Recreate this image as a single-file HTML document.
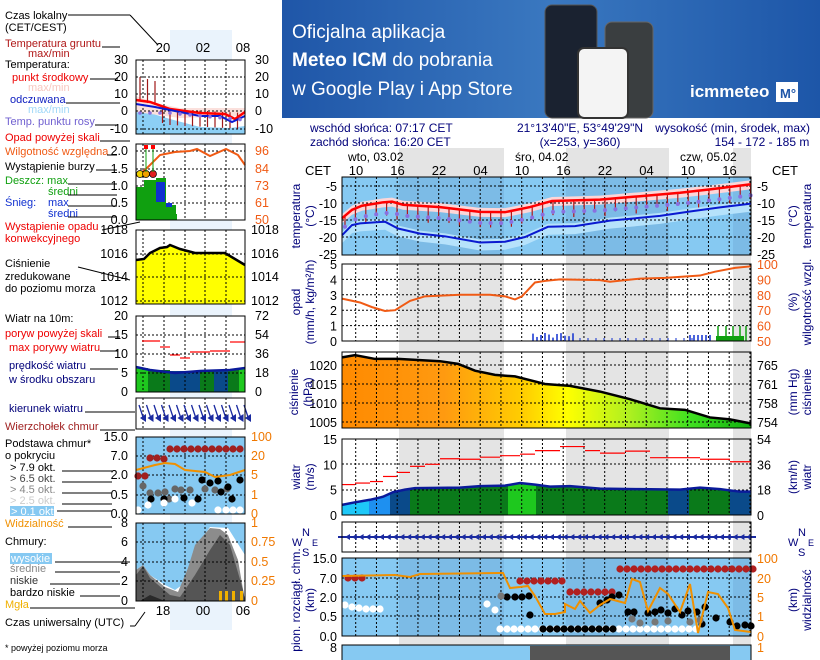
<!DOCTYPE html>
<html><head><meta charset="utf-8"><style>
html,body{margin:0;padding:0;background:#fff;width:820px;height:660px;overflow:hidden}
svg{display:block;font-family:"Liberation Sans",sans-serif}
</style></head><body>
<svg id="s" width="820" height="660" viewBox="0 0 820 660" xmlns="http://www.w3.org/2000/svg">
<defs>
<linearGradient id="bn" x1="0" y1="0" x2="1" y2="0"><stop offset="0" stop-color="#1f56a8"/><stop offset="0.5" stop-color="#3a78c0"/><stop offset="1" stop-color="#1d56a8"/></linearGradient>
<linearGradient id="pr" x1="0" y1="0" x2="1" y2="0"><stop offset="0" stop-color="#ff8a00"/><stop offset="0.25" stop-color="#ff9a10"/><stop offset="0.45" stop-color="#ffd000"/><stop offset="0.55" stop-color="#ffff00"/><stop offset="0.7" stop-color="#b0f020"/><stop offset="0.85" stop-color="#40e020"/><stop offset="1" stop-color="#10b010"/></linearGradient>
</defs>
<rect x="282" y="0" width="538" height="118" fill="url(#bn)"/>
<text x="292" y="38" fill="#fff" font-size="19">Oficjalna aplikacja</text>
<text x="292" y="66" fill="#fff" font-size="19"><tspan font-weight="bold">Meteo ICM</tspan> do pobrania</text>
<text x="292" y="95" fill="#fff" font-size="19">w Google Play i App Store</text>
<rect x="545" y="5" width="52" height="113" rx="7" fill="#1a2230" stroke="#555"/>
<rect x="605" y="22" width="48" height="96" rx="7" fill="#3a3e40" stroke="#666"/>
<rect x="578" y="48" width="50" height="70" rx="6" fill="#f4f4f4" stroke="#333" stroke-width="2"/>
<text x="690" y="97" fill="#fff" font-size="17" font-weight="bold">icmmeteo</text>
<rect x="776" y="82" width="22" height="20" fill="#fff"/><text x="780" y="98" fill="#1f56a8" font-size="13" font-weight="bold">M°</text>
<g id="g"></g>
</svg>
<script>
var S=document.getElementById('g'),h='';
function t(x,y,s,c,sz,a,extra){h+='<text x="'+x+'" y="'+y+'" fill="'+(c||'#000')+'" font-size="'+(sz||12)+'"'+(a?' text-anchor="'+a+'"':'')+(extra||'')+'>'+s+'</text>';}
function r(x,y,w,hh,c,e){h+='<rect x="'+x+'" y="'+y+'" width="'+w+'" height="'+hh+'" fill="'+c+'" '+(e||'')+'/>';}
function l(x1,y1,x2,y2,c,w,e){h+='<line x1="'+x1+'" y1="'+y1+'" x2="'+x2+'" y2="'+y2+'" stroke="'+(c||'#000')+'" stroke-width="'+(w||1)+'" '+(e||'')+'/>';}
function pl(pts,c,w,fill){h+='<polyline points="'+pts.map(p=>p.join(',')).join(' ')+'" fill="'+(fill||'none')+'" stroke="'+c+'" stroke-width="'+(w||1)+'"/>';}
function pg(pts,c){h+='<polygon points="'+pts.map(p=>p.join(',')).join(' ')+'" fill="'+c+'"/>';}
function ip(pts,x){for(var i=0;i<pts.length-1;i++){if(x>=pts[i][0]&&x<=pts[i+1][0]){var f=(x-pts[i][0])/(pts[i+1][0]-pts[i][0]);return pts[i][1]+f*(pts[i+1][1]-pts[i][1]);}}return pts[pts.length-1][1];}
var X0=342,X1=751,TS=12.5;
var gx=[];for(var k=-1;k<20;k++){var x=355.7+k*20.75;if(x>X0&&x<X1)gx.push(x);}
function grid(y0,y1,ys){gx.forEach(x=>l(x,y0,x,y1,'#000',1,'stroke-dasharray="2,2"'));ys.forEach(y=>l(X0,y,X1,y,'#000',1,'stroke-dasharray="2,2"'));}
function shades(y0,y1){[[399,504],[566,669],[733,751]].forEach(b=>r(b[0],y0,b[1]-b[0],y1-y0,'#e4e4e4'));}
function rot(x,y,s){t(x,y,s,'#00007a',12,'middle',' transform="rotate(-90 '+x+' '+y+')"');}
shades(148,660);
t(310,132,'wschód słońca: 07:17 CET','#00007a',12);t(310,146,'zachód słońca: 16:20 CET','#00007a',12);
t(580,132,'21°13\'40"E, 53°49\'29"N','#00007a',12,'middle');t(580,146,'(x=253,  y=360)','#00007a',12,'middle');
t(810,132,'wysokość (min, środek, max)','#00007a',12,'end');t(762,146,'154 - 172 - 185 m','#00007a',12,'middle');
t(348,161,'wto, 03.02','#000',12);t(515,161,'śro, 04.02','#000',12);t(680,161,'czw, 05.02','#000',12);
t(305,175,'CET','#000',13);t(772,175,'CET','#000',13);
['10','16','22','04','10','16','22','04','10','16'].forEach((s,i)=>t(356+i*41.5,175,s,'#000',13,'middle'));
// temperature
var TY=T=>186+(-5-T)*3.4;
r(X0,177,X1-X0,78,'#86c9f2');
[[399,504],[566,669],[733,751]].forEach(b=>r(b[0],177,b[1]-b[0],78,'#7cbbe6'));
var red=[[342,-14.5],[352,-12],[362,-10.8],[383,-9.8],[392,-9.6],[403,-10.5],[440,-11.2],[480,-12.6],[505,-12.7],[530,-11.2],[552,-9.4],[600,-9],[640,-8],[680,-7],[710,-6],[751,-4.5]];
var blue=[[342,-19.5],[352,-16.5],[360,-16],[385,-15.5],[398,-17.5],[420,-19],[445,-19.8],[480,-21.6],[505,-21.4],[525,-20],[548,-17],[575,-16.8],[610,-15.2],[660,-13.8],[690,-12.5],[720,-11.3],[751,-10.2]];
var rp=red.map(p=>[p[0],TY(p[1])]),bp=blue.map(p=>[p[0],TY(p[1])]);
pg(bp.map(p=>[p[0],p[1]-3]).concat(bp.slice().reverse().map(p=>[p[0],p[1]+8])),'#b6e2fb');
pg(rp.map(p=>[p[0],p[1]-4]).concat(rp.slice().reverse().map(p=>[p[0],p[1]+5])),'#fcd6d8');
grid(177,255,[186,203,220,237]);
for(var x=345;x<X1;x+=10.4){var y=ip(rp,x);l(x,y,x,y+14+3*Math.sin(x),'#b01818',1.2);}
for(var x=345;x<X1;x+=10.4){var y=ip(rp,x)+11;h+='<circle cx="'+x+'" cy="'+y+'" r="2" fill="#8a70e0"/>';}
pl(bp,'#0a1ad0',2);pl(rp,'#ff0000',2.5);
r(X0,177,X1-X0,78,'none','stroke="#000"');
[-5,-10,-15,-20,-25].forEach(v=>{t(337,TY(v)+5,v,'#000',TS,'end');t(757,TY(v)+5,v,'#000',TS);});
rot(300,216,'temperatura');rot(314,216,'(°C)');rot(797,216,'(°C)');rot(811,216,'temperatura');
// precip
var PY=v=>341-v*15.4;
r(X0,264,X1-X0,77,'#fff');shades(264,341);
grid(264,341,[PY(1),PY(2),PY(3),PY(4)]);
pl([[342,PY(2.75)],[360,PY(2.5)],[372,PY(2.2)],[385,PY(1.95)],[395,PY(2)],[410,PY(2.6)],[425,PY(2.9)],[460,PY(3.0)],[490,PY(3.0)],[505,PY(2.9)],[515,PY(2.7)],[522,PY(2.9)],[535,PY(3.8)],[545,PY(3.9)],[560,PY(4.0)],[600,PY(3.95)],[610,PY(3.85)],[640,PY(4.05)],[665,PY(4.1)],[700,PY(4.25)],[715,PY(4.5)],[735,PY(4.75)],[751,PY(4.85)]],'#f05a14',2);
for(var x=533;x<575;x+=4){l(x,341,x,341-3-5*Math.abs(Math.sin(x)),'#1030d0',1.5);}
for(var x=580;x<700;x+=8){l(x,341,x,338,'#1030d0',1);}
for(var x=690;x<712;x+=4){l(x,341,x,335,'#1030d0',1.5);}
[718,726,733,740,746].forEach(x=>l(x,341,x,326,'#10a010',1.5));r(716,336,28,5,'#10a010');
r(X0,264,X1-X0,77,'none','stroke="#000"');
[0,1,2,3,4,5].forEach(v=>t(337,PY(v)+5,v,'#000',TS,'end'));
[50,60,70,80,90,100].forEach((v,i)=>t(757,PY(i)+5,v,'#f05a14',TS));
rot(300,302,'opad');rot(314,302,'(mm/h, kg/m²/h)');rot(797,302,'(%)');rot(811,302,'wilgotność wzgl.');
// pressure
var QY=v=>365+(1020-v)*3.8;
var pp=[[342,1022],[355,1022.6],[375,1021.6],[398,1021.6],[440,1021],[458,1020.3],[475,1018.5],[495,1017.4],[515,1017],[545,1015],[570,1014.5],[600,1013],[630,1011],[660,1008.6],[685,1008.2],[710,1006.2],[730,1005.7],[751,1004.6]].map(p=>[p[0],QY(p[1])]);
r(X0,352,X1-X0,76,'#fff');shades(352,428);
pg([[342,428]].concat(pp,[[751,428]]),'url(#pr)');
grid(352,428,[365,384,403,422]);
pl(pp,'#000',2.5);
r(X0,352,X1-X0,76,'none','stroke="#000"');
[1020,1015,1010,1005].forEach(v=>t(337,QY(v)+5,v,'#000',TS,'end'));
[[765,1020],[761,1015],[758,1010],[754,1005]].forEach(v=>t(757,QY(v[1])+5,v[0],'#000',TS));
rot(298,392,'ciśnienie');rot(312,392,'(hPa)');rot(797,392,'(mm Hg)');rot(811,392,'ciśnienie');
// wind
var WY=v=>515-v*5.07;
r(X0,439,X1-X0,76,'#fff');shades(439,515);
var wp=[[342,2],[355,2.5],[370,3],[383,3.6],[393,4.5],[405,5],[415,5.3],[460,5.4],[480,5.7],[505,5.8],[520,6.3],[535,6],[550,5.6],[570,5.7],[600,5.2],[640,5.1],[680,5.0],[700,5.4],[720,5.1],[740,4.6],[751,4.6]].map(p=>[p[0],WY(p[1])]);
var segs=[[342,369,'#1ec8f8'],[369,390,'#1e90f0'],[390,410,'#0a4a8a'],[410,508,'#0a7a1a'],[508,536,'#1ec81e'],[536,668,'#0a7a1a'],[668,689,'#0a4a8a'],[689,730,'#0a7a1a'],[730,751,'#0a4a8a']];
segs.forEach(s=>{var pts=[[s[0],515]];for(var x=s[0];x<=s[1];x+=2)pts.push([x,ip(wp,x)]);pts.push([s[1],ip(wp,s[1])],[s[1],515]);pg(pts,s[2]);});
grid(439,515,[464,490]);
pl(wp,'#0a1a9a',2.5);
var gust=[[342,6],[355,6.3],[370,6.6],[383,7.6],[397,8.4],[410,9.6],[425,10],[440,11.1],[460,11],[480,11.4],[500,11.7],[520,12],[535,12.7],[560,13.5],[585,12.7],[600,12.2],[625,12.6],[650,11.3],[700,11],[730,10.5],[751,10.8]];
for(var i=0;i<gust.length-1;i++){l(gust[i][0],WY(gust[i][1]),gust[i+1][0],WY(gust[i][1]),'#ff0000',1.2);}
r(X0,439,X1-X0,76,'none','stroke="#000"');
[0,5,10,15].forEach(v=>t(337,WY(v)+5,v,'#000',TS,'end'));[0,18,36,54].forEach((v,i)=>t(757,WY(i*5)+5,v,'#000',TS));
rot(300,477,'wiatr');rot(314,477,'(m/s)');rot(797,477,'(km/h)');rot(811,477,'wiatr');
// direction
r(X0,522,X1-X0,30,'#fff');shades(522,552);grid(522,552,[]);
l(338,537,756,537,'#1a2aa0',2);for(var x=345;x<750;x+=6.8){h+='<polygon points="'+x+',537 '+(x+5)+',534 '+(x+5)+',540" fill="#1a2aa0"/>';}
r(X0,522,X1-X0,30,'none','stroke="#000"');
t(292,546,'W','#00007a',11);t(302,536,'N','#00007a',11);t(302,556,'S','#00007a',11);t(312,546,'E','#00007a',9);
t(788,546,'W','#00007a',11);t(798,536,'N','#00007a',11);t(798,556,'S','#00007a',11);t(808,546,'E','#00007a',9);
// clouds
r(X0,558,X1-X0,78,'#86c9f2');[[399,504],[566,669],[733,751]].forEach(b=>r(b[0],558,b[1]-b[0],78,'#7cbbe6'));
grid(558,636,[578,597,616]);
function dots(arr,c){arr.forEach(p=>h+='<circle cx="'+p[0]+'" cy="'+p[1]+'" r="3.6" fill="'+c+'"/>');}
var dr=[[348,578],[355,578],[362,578]];for(var x=520;x<568;x+=7)dr.push([x,581]);for(var x=570;x<615;x+=7)dr.push([x,592]);for(var x=620;x<755;x+=7)dr.push([x,569]);
dots(dr,'#b02020');
var dw=[[345,605],[352,607],[359,608],[366,609],[373,609],[380,609],[487,604],[495,610]];for(var x=500;x<700;x+=7)dw.push([x,629]);dots(dw,'#fff');
var db=[];for(var x=543;x<620;x+=7)db.push([x,629]);[[507,597],[515,597],[522,597],[529,596],[530,615],[600,603],[607,600],[612,597],[619,595],[628,612],[634,612],[648,613],[655,612],[661,610],[668,613],[675,609],[682,615],[688,611],[697,612],[702,624],[705,607],[716,618],[730,622],[737,626],[745,625],[751,626]].forEach(p=>db.push(p));dots(db,'#000');
dots([[501,596],[632,619],[640,623],[655,622],[668,621],[690,622],[700,620]],'#777');
pl([[342,576],[395,575],[410,577],[420,574],[500,573],[503,573],[510,588],[520,587],[528,586],[535,596],[545,614],[555,614],[565,612],[565,604],[575,609],[580,601],[590,613],[600,605],[610,599],[625,603],[632,579],[640,582],[648,611],[660,588],[668,594],[680,612],[690,584],[698,633],[708,592],[718,594],[728,608],[735,630],[751,632]],'#f09000',2);
r(X0,558,X1-X0,78,'none','stroke="#000"');
[['15.0',558],['7.0',578],['2.0',597],['0.5',616],['0.0',636]].forEach(v=>t(337,v[1]+5,v[0],'#000',TS,'end'));
[['100',558],['20',578],['5',597],['1',616],['0',636]].forEach(v=>t(757,v[1]+5,v[0],'#f07800',TS));
rot(300,600,'pion. rozciągł. chm.');rot(314,600,'(km)');rot(797,600,'(km)');rot(811,600,'widzialność');
r(X0,645,X1-X0,20,'#86c9f2','stroke="#000"');r(530,646,200,14,'#555');t(337,652,'8','#000',TS,'end');t(757,652,'1','#f07800',TS);

// LEFT
var L0=136,L1=245,LS=12.5;
r(170,30,62,600,'#eaf3fc');
function lgrid(y0,y1,ys){[143,164,185,205,226].forEach(x=>l(x,y0,x,y1,'#000',1,'stroke-dasharray="2,2"'));ys.forEach(y=>l(L0,y,L1,y,'#000',1,'stroke-dasharray="2,2"'));}
t(163,52,'20','#000',13,'middle');t(203,52,'02','#000',13,'middle');t(243,52,'08','#000',13,'middle');
r(L0,60,109,74,'#fff');
pg([[136,112],[150,113],[170,119],[200,127],[230,128],[245,126],[245,134],[136,134]],'#8ccff5');
pg([[136,96],[160,104],[180,108],[200,108],[245,108],[245,116],[180,118],[136,112]],'#fbe0dc');
lgrid(60,134,[77,94,111,129]);
for(var x=140;x<245;x+=7.5)l(x,ip([[136,100],[170,109],[245,113]],x),x,ip([[136,100],[170,109],[245,113]],x)+16+(x<160?-40:0),'#a01818',1.2);
pl([[136,100],[150,102],[170,109],[200,113],[225,114],[235,119],[245,112]],'#ff0000',2.5);
pl([[136,104],[155,107],[170,110],[200,116],[220,116],[232,122],[245,116]],'#0a1ad0',2);
for(var x=140;x<245;x+=10)h+='<circle cx="'+x+'" cy="'+ip([[136,113],[170,113],[245,120]],x)+'" r="1.8" fill="#8a70e0"/>';
r(L0,60,109,74,'none','stroke="#000"');
[[30,64],[20,81],[10,98],[0,115],[-10,133]].forEach(v=>{t(128,v[1],v[0],'#000',LS,'end');t(255,v[1],v[0],'#000',LS);});
r(L0,144,109,76,'#fff');lgrid(144,220,[151,169,186,203]);
r(136,187,20,33,'#10a010');r(144,180,22,40,'#10a010');r(156,178,10,42,'#10a010');r(166,205,10,15,'#10a010');r(156,182,9,20,'#1030d0');r(166,203,6,4,'#1030d0');r(166,214,11,6,'#10a010');
pl([[136,176],[145,170],[160,155],[175,152],[190,151],[197,149],[210,156],[226,149],[238,155],[245,165]],'#f05a14',2);
[[140,174,'#f0d000'],[146,174,'#f0a000'],[153,174,'#e02020']].forEach(c=>h+='<circle cx="'+c[0]+'" cy="'+c[1]+'" r="3.5" fill="'+c[2]+'" stroke="#000" stroke-width=".7"/>');
l(146,147,146,172,'#10a010');l(153,147,153,172,'#10a010');r(144,145,4,4,'#f00');r(151,145,4,4,'#f00');
r(L0,144,109,76,'none','stroke="#000"');
[['2.0',155],['1.5',173],['1.0',190],['0.5',207],['0.0',224]].forEach(v=>t(128,v[1],v[0],'#000',LS,'end'));
[['96',155],['84',173],['73',190],['61',207],['50',224]].forEach(v=>t(255,v[1],v[0],'#f05a14',LS));
r(L0,230,109,74,'#fff');
var lp=[[136,260],[144,259],[150,253],[160,248],[167,247],[170,245],[180,249],[195,253],[225,253],[245,265]];
pg([[136,304]].concat(lp,[[245,304]]),'#ffff00');lgrid(230,304,[254,277,301]);pl(lp,'#000',2.5);
r(L0,230,109,74,'none','stroke="#000"');
[['1018',234],['1016',258],['1014',281],['1012',305]].forEach(v=>{t(128,v[1],v[0],'#000',LS,'end');t(251,v[1],v[0],'#000',LS);});
r(L0,316,109,76,'#fff');
r(136,368,12,24,'#1ec81e');r(148,370,22,22,'#0a7a1a');r(170,371,30,21,'#0a4a8a');r(200,371,14,21,'#0a7a1a');r(214,370,14,22,'#0a4a8a');r(228,369,11,23,'#0a7a1a');r(239,369,6,23,'#1ec81e');
lgrid(316,392,[335,354,373]);
pl([[136,367],[150,370],[175,373],[200,371],[230,370],[245,368]],'#0a1a9a',2.5);
[[142,160,341],[160,170,347],[170,180,355],[180,190,358],[190,210,352],[210,230,351],[230,245,342]].forEach(s=>l(s[0],s[2],s[1],s[2],'#f00',1.2));
r(L0,316,109,76,'none','stroke="#000"');
[['20',320],['15',339],['10',358],['5',377],['0',396]].forEach(v=>t(128,v[1],v[0],'#000',LS,'end'));
[['72',320],['54',339],['36',358],['18',377],['0',396]].forEach(v=>t(255,v[1],v[0],'#000',LS));
r(L0,398,109,31,'#fff');lgrid(398,429,[]);
for(var x=139;x<248;x+=7.5){l(x,405,x+4,417,'#1a2aa0',1.3);h+='<polygon points="'+(x+1)+',418 '+(x+7)+',414 '+(x+7)+',422" fill="#1a2aa0"/>';}
r(L0,398,109,31,'none','stroke="#000"');
r(L0,437,109,77,'#86c9f2');lgrid(437,514,[456,475,495]);
dots([[138,476],[145,476],[150,458],[157,458],[164,459],[170,449],[177,449],[184,449],[191,449],[198,449],[205,449],[212,449],[219,449],[226,449],[233,449],[240,449]],'#a02020');
dots([[143,486],[150,493],[158,493],[165,492],[169,499],[175,489],[181,490],[190,490],[205,489],[215,490],[227,489]],'#666');
dots([[151,499],[164,499],[184,498],[198,499],[202,480],[210,483],[218,481],[221,492],[228,487],[232,499],[240,480]],'#000');
dots([[164,503],[175,499],[192,503],[218,510],[226,510],[233,510],[240,510],[148,505],[138,510]],'#fff');
pl([[136,470],[155,465],[165,463],[175,464],[185,470],[205,472],[215,477],[230,475],[245,470]],'#f09000',2);
r(L0,437,109,77,'none','stroke="#000"');
[['15.0',441],['7.0',460],['2.0',479],['0.5',499],['0.0',518]].forEach(v=>t(128,v[1],v[0],'#000',LS,'end'));
[['100',441],['20',460],['5',479],['1',499],['0',518]].forEach(v=>t(251,v[1],v[0],'#f07800',LS));
r(L0,523,109,78,'#86c9f2');
pg([[136,601],[136,570],[143,565],[150,575],[165,585],[175,590],[185,583],[193,552],[210,527],[228,528],[245,555],[245,601]],'#fff');
pg([[136,601],[136,570],[143,565],[150,575],[165,587],[178,592],[188,568],[195,545],[210,528],[220,529],[228,535],[238,560],[245,601]],'#8c8c8c');
pg([[136,601],[136,575],[143,566],[150,578],[170,595],[180,597],[195,575],[210,550],[220,535],[230,545],[243,590],[245,601]],'#555');
pg([[140,601],[150,595],[165,601]],'#2a2a2a');
lgrid(523,601,[542,562,581]);
[219,225,232,240].forEach(x=>r(x,591,3,10,'#f0b000'));
r(L0,523,109,78,'none','stroke="#000"');
[['8',527],['6',546],['4',566],['2',585],['0',605]].forEach(v=>t(128,v[1],v[0],'#000',LS,'end'));
[['1',527],['0.75',546],['0.5',566],['0.25',585],['0',605]].forEach(v=>t(251,v[1],v[0],'#f07800',LS));
t(163,615,'18','#000',13,'middle');t(203,615,'00','#000',13,'middle');t(243,615,'06','#000',13,'middle');

var lab=[['Czas lokalny',5,19,'#000'],['(CET/CEST)',5,31,'#000'],['Temperatura gruntu',5,47,'#b01818'],['max/min',28,57,'#b01818'],['Temperatura:',5,68,'#000'],['punkt środkowy',12,81,'#e00'],['max/min',28,91,'#f8c8c0'],['odczuwana',10,103,'#1020c0'],['max/min',28,113,'#a0d8f8'],['Temp. punktu rosy',5,125,'#7060d0'],
['Opad powyżej skali',5,141,'#e00'],['Wilgotność względna',5,155,'#f05a14'],['Wystąpienie burzy',5,170,'#000'],['Deszcz: max',5,184,'#10a010'],['średni',48,195,'#10a010'],['Śnieg:',5,206,'#1030d0'],['max',48,206,'#1030d0'],['średni',48,217,'#1030d0'],['Wystąpienie opadu',5,230,'#e00'],['konwekcyjnego',5,242,'#e00'],
['Ciśnienie',5,267,'#000'],['zredukowane',5,280,'#000'],['do poziomu morza',5,292,'#000'],['Wiatr na 10m:',5,322,'#000'],['poryw powyżej skali',5,337,'#e00'],['max porywy wiatru',9,351,'#e00'],['prędkość wiatru',9,369,'#00007a'],['w środku obszaru',9,383,'#00007a'],['kierunek wiatru',9,412,'#00007a'],
['Wierzchołek chmur',5,430,'#a02020'],['Podstawa chmur*',5,447,'#000'],['o pokryciu',5,459,'#000'],['> 7.9 okt.',10,471,'#000'],['> 6.5 okt.',10,482,'#444'],['> 4.5 okt.',10,493,'#888'],['> 2.5 okt.',10,504,'#ccc'],['Widzialność',5,527,'#f09000'],['Chmury:',5,545,'#000'],['średnie',10,572,'#888'],['niskie',10,584,'#333'],['bardzo niskie',10,596,'#000'],['Mgła',5,608,'#f0b000'],['Czas uniwersalny (UTC)',5,626,'#000']];
r(10,506,44,10,'#86c9f2');r(10,553,42,11,'#86c9f2');
lab.forEach(a=>t(a[1],a[2],a[0],a[3],11));
t(11,515,'> 0.1 okt.','#fff',11);t(11,562,'wysokie','#fff',11);
t(5,651,'* powyżej poziomu morza','#000',9);
[[68,15,130,15],[130,15,158,45],[102,47,120,47],[90,79,118,79],[66,103,120,103],[95,125,118,125],[100,141,130,141],[107,155,117,155],[96,170,117,170],[68,184,117,184],[68,195,117,195],[68,206,117,206],[68,217,117,217],[102,230,140,222],[78,267,130,280],[108,337,120,337],[100,351,118,351],[90,369,118,369],[85,412,135,412],[100,430,135,430],[62,471,112,471],[62,482,112,482],[62,493,112,493],[62,504,112,504],[57,511,112,511],[68,527,112,527],[55,562,130,562],[55,572,120,572],[50,584,120,584],[80,596,120,596],[30,608,135,608],[130,626,135,626],[135,626,145,612]].forEach(a=>l(a[0],a[1],a[2],a[3],'#000',1));
S.innerHTML=h;
</script>
</body></html>
